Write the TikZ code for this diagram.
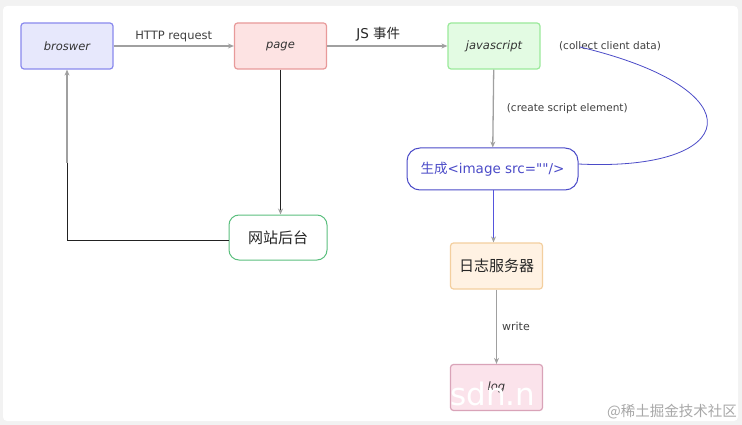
\documentclass[tikz,border=0pt]{standalone}
\usepackage{fontspec}
\setmainfont{DejaVu Sans}
\newfontfamily\rawfont{DejaVu Sans}[Ligatures=TeXOff]
\newfontfamily\cjk{Noto Sans CJK SC}
\usetikzlibrary{arrows.meta}
\definecolor{bgc}{HTML}{F2F2F2}
\definecolor{linegray}{HTML}{A0A0A0}
\definecolor{darkline}{HTML}{222222}
\definecolor{bluec}{HTML}{4B4BC8}
\definecolor{bluel}{HTML}{5555DD}
\definecolor{brD}{HTML}{8A8AEE}
\definecolor{brF}{HTML}{E7E8FC}
\definecolor{pgD}{HTML}{E89A9A}
\definecolor{pgF}{HTML}{FDE3E3}
\definecolor{jsD}{HTML}{9BEA9B}
\definecolor{jsF}{HTML}{E3FBE3}
\definecolor{wzD}{HTML}{5BBF7E}
\definecolor{rzD}{HTML}{F3CF9F}
\definecolor{rzF}{HTML}{FFF2E3}
\definecolor{lgD}{HTML}{D9A3B8}
\definecolor{lgF}{HTML}{FBE3EB}
\definecolor{wmc}{HTML}{A8A8A8}
\begin{document}
\begin{tikzpicture}[x=1pt,y=-1pt,
  box/.style={rounded corners=3pt, line width=1.2pt, minimum width=92pt, minimum height=46pt, inner sep=0pt, font=\fontsize{11.5}{13}\selectfont\itshape, text=black!80},
  cjkbox/.style={box, font=\cjk\fontsize{15}{17}\selectfont, text=black!85},
  lbl/.style={font=\fontsize{10.5}{12}\selectfont, text=black!75, inner sep=1pt},
  garrow/.style={draw=linegray, line width=1.3pt, -{Stealth[length=6pt,width=5pt]}},
  gtip/.style={-{Stealth[length=6pt,width=5pt,color=linegray]}}
]
\useasboundingbox (0,0) rectangle (742,425);
\fill[bgc] (0,0) rectangle (742,425);
\fill[white, rounded corners=4pt] (3,6) rectangle (738,421);

% nodes
\node[box, draw=brD, fill=brF] (br) at (67,46) {broswer};
\node[box, draw=pgD, fill=pgF] (pg) at (280.5,46) {page};
\node[box, draw=jsD, fill=jsF] (js) at (494,46) {javascript};
\node[draw=bluec, line width=1pt, rounded corners=13pt, minimum width=171pt, minimum height=42pt, inner sep=0pt, text=bluec, font=\rawfont\fontsize{13.5}{15}\selectfont] (gen) at (492.5,169) {{\cjk 生成}<image src=""/>};
\node[cjkbox, draw=wzD, fill=white, rounded corners=10pt, line width=1pt, minimum width=98pt, minimum height=45pt] (wz) at (278,237.5) {网站后台};
\node[cjkbox, draw=rzD, fill=rzF] (rz) at (496.5,266) {日志服务器};
\node[box, draw=lgD, fill=lgF] (lg) at (496.5,387.5) {log};

% connectors
\draw[garrow] (br) -- node[lbl, above=2pt, font=\fontsize{11.5}{13}\selectfont] {HTTP request} (pg);
\draw[garrow] (pg) -- node[above=3pt, xshift=-9pt, font=\fontsize{13.5}{15}\selectfont, text=black!85, inner sep=1pt] {JS {\cjk 事件}} (js);
\draw[garrow] (js) -- node[lbl, right=12pt] {(create script element)} (gen);
\node[lbl] (cc) at (610,46) {(collect client data)};
\draw[bluec, line width=0.8pt] ([yshift=5pt]gen.east) .. controls (740,172) and (760,90) .. ([xshift=22pt,yshift=-1pt]cc.west);
\draw[darkline, line width=1pt, gtip] (pg.south) -- (wz.north -| pg.south);
\coordinate (bend) at (67,240);
\coordinate (mid) at (67,163);
\draw[darkline, line width=1pt] (wz.west |- bend) -- (bend) -- (mid);
\draw[garrow] (mid) -- (br.south);
\draw[bluel, line width=1.2pt, gtip] ([xshift=-3pt]gen.south -| rz.north) -- ([xshift=-3pt]rz.north);
\draw[garrow] (rz) -- node[lbl, right=4pt, font=\fontsize{11}{13}\selectfont] {write} (lg);

% watermarks
\node[anchor=base west, text=white, font=\fontsize{31}{31}\selectfont, inner sep=0pt] (wm1) at (450,405) {sdn.n};
\node[anchor=base east, text=wmc, font=\cjk\fontsize{14.5}{16}\selectfont, inner sep=0pt] (wm2) at (737,416) {@稀土掘金技术社区};
\end{tikzpicture}
\end{document}
